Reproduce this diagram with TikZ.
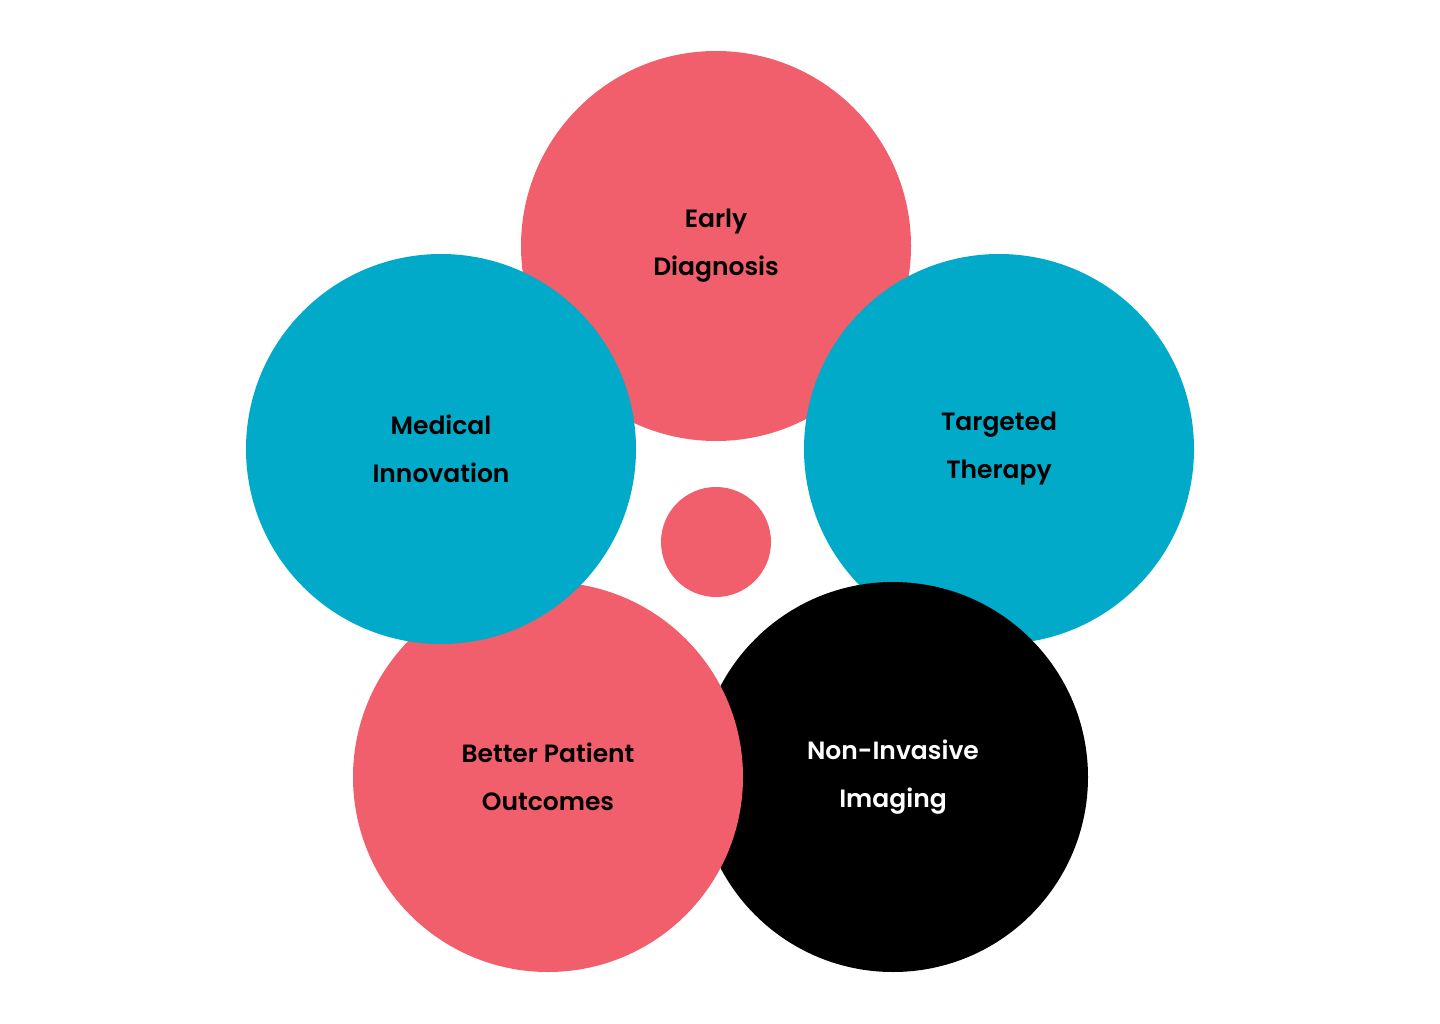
\documentclass[tikz,border=0pt]{standalone}
\usepackage{fontspec}
\setmainfont{Poppins}[BoldFont={Poppins SemiBold}]
\definecolor{pinkc}{HTML}{F05F6B}
\definecolor{tealc}{HTML}{00AAC8}
\begin{document}
\begin{tikzpicture}[x=1pt,y=-1pt,
  bub/.style={circle,minimum size=390pt,inner sep=0pt,align=center,font=\fontsize{25}{48}\selectfont\bfseries}]
\useasboundingbox (0,0) rectangle (1440,1024);
\node[bub,fill=pinkc] (early) at (716,246) {Early\\Diagnosis};
\node[bub,fill=tealc] (target) at (999,449) {Targeted\\Therapy};
\node[bub,fill=black,text=white] (imaging) at (893,777) {Non-Invasive\\Imaging};
\node[bub,fill=pinkc] (better) at (548,777) {Better Patient\\Outcomes};
\node[bub,fill=tealc] (medical) at (441,449) {Medical\\Innovation};
\node[circle,fill=pinkc,minimum size=110pt,inner sep=0pt] (hub) at (716,542) {};
\end{tikzpicture}
\end{document}
